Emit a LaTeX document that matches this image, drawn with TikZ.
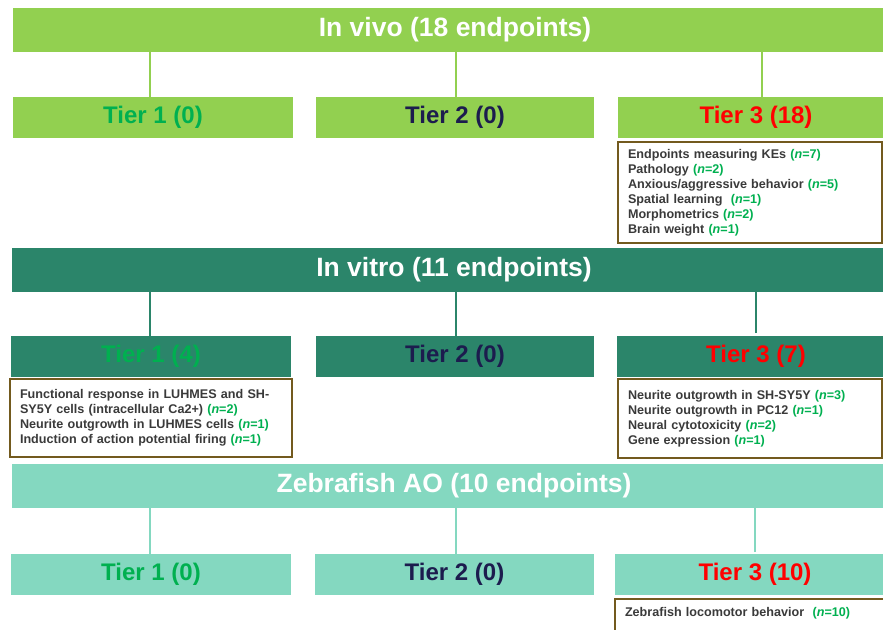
\documentclass[tikz,border=0pt]{standalone}
\usepackage{fontspec}
\setmainfont{Liberation Sans}
\definecolor{vivo}{HTML}{92D050}
\definecolor{vitro}{HTML}{2B856A}
\definecolor{zebra}{HTML}{84D8C0}
\definecolor{tonegreen}{HTML}{00B050}
\definecolor{ttwonavy}{HTML}{1C1C4E}
\definecolor{tthreered}{HTML}{FF0000}
\definecolor{boxbrown}{HTML}{735A1E}
\definecolor{detailgray}{HTML}{3A3A3A}
\newcommand{\nn}[1]{{\color{tonegreen}(\textit{n}=#1)}}
\begin{document}
\begin{tikzpicture}[x=1pt,y=-1pt,
  banner/.style={fill=#1, inner sep=0, outer sep=0, anchor=north west,
    minimum width=884, minimum height=44, text=white,
    font=\fontsize{26.5}{28}\selectfont\bfseries},
  tierbox/.style={fill=#1, inner sep=0, outer sep=0, anchor=north west,
    minimum height=41, font=\fontsize{24}{26}\selectfont\bfseries},
  link/.style={draw=#1, line width=2},
  detail/.style={draw=boxbrown, line width=1.6, anchor=north west, align=left,
    inner xsep=9, inner ysep=0, outer sep=0, text=detailgray,
    font=\fontsize{12.6}{15}\selectfont\bfseries}
]
\useasboundingbox (0,0) rectangle (883,629);
\clip (0,0) rectangle (883,629);
\fill[white] (0,0) rectangle (883,629);

% ---------- In vivo ----------
\node[banner=vivo] (vivo) at (13,8) {In vivo (18 endpoints)};
\node[tierbox=vivo, minimum width=280, text=tonegreen] (t11) at (13,97) {Tier 1 (0)};
\node[tierbox=vivo, minimum width=278, text=ttwonavy] (t12) at (316,97) {Tier 2 (0)};
\node[tierbox=vivo, minimum width=276, text=tthreered] (t13) at (618,97) {Tier 3 (18)};
\draw[link=vivo] ([xshift=-3pt]t11.north) -- ([xshift=-3pt]t11.north |- vivo.south);
\draw[link=vivo] ([xshift=1pt]t12.north) -- ([xshift=1pt]t12.north |- vivo.south);
\draw[link=vivo] ([xshift=6pt]t13.north) -- ([xshift=6pt]t13.north |- vivo.south);
\node[detail, minimum width=264, minimum height=101, text width=244] (d13) at (618,142)
  {Endpoints measuring KEs \nn{7}\\
   Pathology \nn{2}\\
   Anxious/aggressive behavior \nn{5}\\
   Spatial learning\ \ \nn{1}\\
   Morphometrics \nn{2}\\
   Brain weight \nn{1}};

% ---------- In vitro ----------
\node[banner=vitro] (vitro) at (12,248) {In vitro (11 endpoints)};
\node[tierbox=vitro, minimum width=280, text=tonegreen] (t21) at (11,336) {Tier 1 (4)};
\node[tierbox=vitro, minimum width=278, text=ttwonavy] (t22) at (316,336) {Tier 2 (0)};
\node[tierbox=vitro, minimum width=278, text=tthreered] (t23) at (617,336) {Tier 3 (7)};
\draw[link=vitro] ([xshift=-1pt]t21.north) -- ([xshift=-1pt]t21.north |- vitro.south);
\draw[link=vitro] ([xshift=1pt]t22.north) -- ([xshift=1pt]t22.north |- vitro.south);
\draw[link=vitro] ([yshift=3pt]t23.north) -- (t23.north |- vitro.south);
\node[detail, minimum width=282, minimum height=78, text width=262] (d21) at (10,379)
  {Functional response in LUHMES and SH-\\
   SY5Y cells (intracellular Ca2+) \nn{2}\\
   Neurite outgrowth in LUHMES cells \nn{1}\\
   Induction of action potential firing \nn{1}};
\node[detail, minimum width=264, minimum height=79, text width=244] (d23) at (618,379)
  {Neurite outgrowth in SH-SY5Y \nn{3}\\
   Neurite outgrowth in PC12 \nn{1}\\
   Neural cytotoxicity \nn{2}\\
   Gene expression \nn{1}};

% ---------- Zebrafish AO ----------
\node[banner=zebra] (zebra) at (12,464) {Zebrafish AO (10 endpoints)};
\node[tierbox=zebra, minimum width=280, text=tonegreen] (t31) at (11,554) {Tier 1 (0)};
\node[tierbox=zebra, minimum width=279, text=ttwonavy] (t32) at (315,554) {Tier 2 (0)};
\node[tierbox=zebra, minimum width=280, text=tthreered] (t33) at (615,554) {Tier 3 (10)};
\draw[link=zebra] ([xshift=-1pt]t31.north) -- ([xshift=-1pt]t31.north |- zebra.south);
\draw[link=zebra] ([xshift=1.5pt]t32.north) -- ([xshift=1.5pt]t32.north |- zebra.south);
\draw[link=zebra] ([yshift=2pt]t33.north) -- (t33.north |- zebra.south);
\node[detail, minimum width=280, inner ysep=8, text depth=26, text width=260] (d33) at (615,599)
  {Zebrafish locomotor behavior\ \ \nn{10}};
\end{tikzpicture}
\end{document}
